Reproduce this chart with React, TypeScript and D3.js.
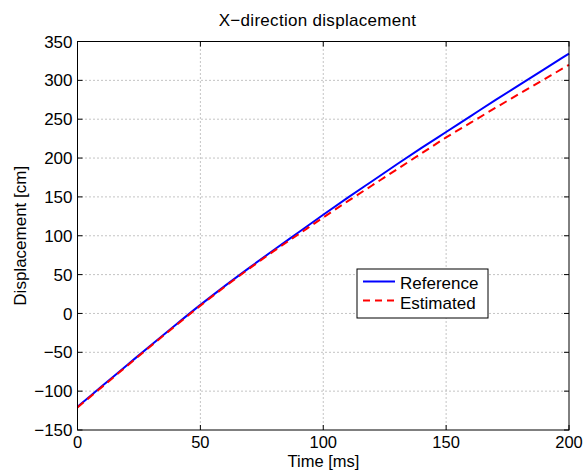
import React from "react";
import * as d3 from "d3";

const timeMs = [0, 10, 20, 30, 40, 50, 60, 70, 80, 90, 100, 110, 120, 130, 140, 150, 160, 170, 180, 190, 200];
const referenceCm = [-120, -93.5, -67, -40.5, -14.5, 11, 35.5, 59, 82, 104.5, 127, 149, 170.5, 192, 213, 233.5, 254, 274.5, 294.5, 314.5, 334.5];
const estimatedCm = [-121, -94.5, -68, -41.5, -15.5, 10, 34.5, 58, 80.5, 102, 123.5, 144.5, 165, 185.5, 206, 226.5, 245.5, 264.5, 283, 301.5, 320];
const xTicks = [0, 50, 100, 150, 200];
const yTicks = [-150, -100, -50, 0, 50, 100, 150, 200, 250, 300, 350];
const seriesNames = ["Reference", "Estimated"];

const W = 583;
const H = 470;
const L = 77.5;
const R = 569;
const T = 41.5;
const B = 430;
const FONT = "'Liberation Sans', Arial, Helvetica, sans-serif";
const FS = 17;

export default function App() {
  const x = d3.scaleLinear().domain([0, 200]).range([L, R]);
  const y = d3.scaleLinear().domain([-150, 350]).range([B, T]);
  const line = d3
    .line<number>()
    .x((_, i) => x(timeMs[i]))
    .y((d) => y(d))
    .curve(d3.curveMonotoneX);
  const tick = 5;
  return (
    <svg width={W} height={H} style={{ position: "absolute", left: 0, top: 0, background: "#fff" }} fontFamily={FONT}>
      <rect x={0} y={0} width={W} height={H} fill="#fff" />
      {xTicks.slice(1, -1).map((t) => (
        <line key={"gx" + t} x1={x(t)} x2={x(t)} y1={T} y2={B} stroke="#888" strokeWidth={1} strokeDasharray="1,3" />
      ))}
      {yTicks.slice(1, -1).map((t) => (
        <line key={"gy" + t} x1={L} x2={R} y1={y(t)} y2={y(t)} stroke="#888" strokeWidth={1} strokeDasharray="1,3" />
      ))}
      {xTicks.map((t) => (
        <g key={"tx" + t}>
          <line x1={x(t)} x2={x(t)} y1={B} y2={B - tick} stroke="#000" />
          <line x1={x(t)} x2={x(t)} y1={T} y2={T + tick} stroke="#000" />
          <text x={x(t)} y={447.5} textAnchor="middle" fontSize={16.5} fill="#000">
            {t}
          </text>
        </g>
      ))}
      {yTicks.map((t) => (
        <g key={"ty" + t}>
          <line x1={L} x2={L + tick} y1={y(t)} y2={y(t)} stroke="#000" />
          <line x1={R} x2={R - tick} y1={y(t)} y2={y(t)} stroke="#000" />
          <text x={72.5} y={y(t)} dy="0.36em" textAnchor="end" fontSize={FS} fill="#000">
            {t < 0 ? "\u2212" + Math.abs(t) : t}
          </text>
        </g>
      ))}
      <path d={line(referenceCm) || ""} fill="none" stroke="#0000ff" strokeWidth={2} />
      <path d={line(estimatedCm) || ""} fill="none" stroke="#ff0000" strokeWidth={2} strokeDasharray="8,5" />
      <rect x={L} y={T} width={R - L} height={B - T} fill="none" stroke="#000" strokeWidth={1} />
      <text x={317.5} y={26} textAnchor="middle" fontSize={FS} letterSpacing={0.3} fill="#000">
        X{"\u2212"}direction displacement
      </text>
      <text x={323.5} y={467} textAnchor="middle" fontSize={16.5} fill="#000">
        Time [ms]
      </text>
      <text transform={`translate(26,${(T + B) / 2}) rotate(-90)`} textAnchor="middle" fontSize={FS} fill="#000">
        Displacement [cm]
      </text>
      <g>
        <rect x={357} y={269} width={131} height={49} fill="#fff" stroke="#000" strokeWidth={1} />
        <line x1={363} x2={395} y1={281.5} y2={281.5} stroke="#0000ff" strokeWidth={2} />
        <line x1={363} x2={395} y1={300.5} y2={300.5} stroke="#ff0000" strokeWidth={2} strokeDasharray="7,5" />
        <text x={400} y={288.5} fontSize={FS} fill="#000">
          {seriesNames[0]}
        </text>
        <text x={400} y={308.5} fontSize={FS} fill="#000">
          {seriesNames[1]}
        </text>
      </g>
    </svg>
  );
}
